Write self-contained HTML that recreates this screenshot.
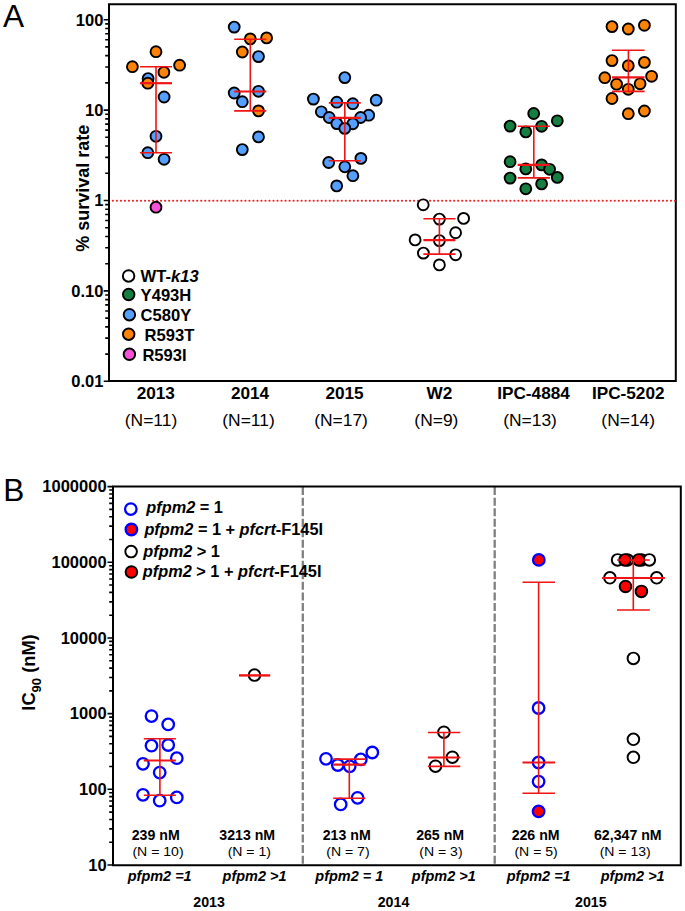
<!DOCTYPE html>
<html><head><meta charset="utf-8"><style>
html,body{margin:0;padding:0;background:#fff;}
svg{display:block;}
text{font-family:"Liberation Sans",sans-serif;fill:#000;}
.b{font-weight:bold;}
.bi{font-weight:bold;font-style:italic;}
.r{font-weight:normal;}
</style></head><body>
<svg width="685" height="911" viewBox="0 0 685 911">
<rect width="685" height="911" fill="#fff"/>
<path d="M109.0,4.2 H675.8 V381.0 H109.0 Z" fill="none" stroke="#000" stroke-width="2"/>
<path d="M103.7,381.30H109.0M105.2,354.09H109.0M105.2,338.17H109.0M105.2,326.87H109.0M105.2,318.11H109.0M105.2,310.96H109.0M105.2,304.90H109.0M105.2,299.66H109.0M105.2,295.04H109.0M103.7,290.90H109.0M105.2,263.69H109.0M105.2,247.77H109.0M105.2,236.47H109.0M105.2,227.71H109.0M105.2,220.56H109.0M105.2,214.50H109.0M105.2,209.26H109.0M105.2,204.64H109.0M103.7,200.50H109.0M105.2,173.29H109.0M105.2,157.37H109.0M105.2,146.07H109.0M105.2,137.31H109.0M105.2,130.16H109.0M105.2,124.10H109.0M105.2,118.86H109.0M105.2,114.24H109.0M103.7,110.10H109.0M105.2,82.89H109.0M105.2,66.97H109.0M105.2,55.67H109.0M105.2,46.91H109.0M105.2,39.76H109.0M105.2,33.70H109.0M105.2,28.46H109.0M105.2,23.84H109.0M103.7,19.70H109.0" stroke="#000" stroke-width="1.6" fill="none"/>
<text transform="translate(103.4,25.5) scale(1.02,1)" x="0" y="0" class="b" font-size="16.2" text-anchor="end">100</text>
<text transform="translate(103.4,115.9) scale(1.02,1)" x="0" y="0" class="b" font-size="16.2" text-anchor="end">10</text>
<text transform="translate(103.4,206.3) scale(1.02,1)" x="0" y="0" class="b" font-size="16.2" text-anchor="end">1</text>
<text transform="translate(103.4,296.7) scale(1.02,1)" x="0" y="0" class="b" font-size="16.2" text-anchor="end">0.10</text>
<text transform="translate(103.4,387.1) scale(1.02,1)" x="0" y="0" class="b" font-size="16.2" text-anchor="end">0.01</text>
<path d="M112.8,200.7H676" stroke="#f01414" stroke-width="2" stroke-linecap="round" stroke-dasharray="0.2 3.815" fill="none" opacity="0.92"/>
<circle cx="156.0" cy="51.7" r="5.45" fill="#fd8208" stroke="#000" stroke-width="1.9"/>
<circle cx="132.4" cy="66.7" r="5.45" fill="#fd8208" stroke="#000" stroke-width="1.9"/>
<circle cx="179.6" cy="65.2" r="5.45" fill="#fd8208" stroke="#000" stroke-width="1.9"/>
<circle cx="163.9" cy="72.3" r="5.45" fill="#fd8208" stroke="#000" stroke-width="1.9"/>
<circle cx="148.1" cy="78.6" r="5.45" fill="#55a0ff" stroke="#000" stroke-width="1.9"/>
<circle cx="147.8" cy="83.2" r="5.45" fill="#fd8208" stroke="#000" stroke-width="1.9"/>
<circle cx="164.1" cy="97.0" r="5.45" fill="#55a0ff" stroke="#000" stroke-width="1.9"/>
<circle cx="156.0" cy="136.3" r="5.45" fill="#55a0ff" stroke="#000" stroke-width="1.9"/>
<circle cx="147.8" cy="152.7" r="5.45" fill="#55a0ff" stroke="#000" stroke-width="1.9"/>
<circle cx="164.1" cy="159.3" r="5.45" fill="#55a0ff" stroke="#000" stroke-width="1.9"/>
<circle cx="156.0" cy="207.2" r="5.45" fill="#f850d8" stroke="#000" stroke-width="1.9"/>
<path d="M156.0,66.8V152.7M140.0,66.8H172.0M140.0,152.7H172.0" stroke="#f01414" stroke-width="1.6" fill="none"/>
<path d="M140.0,83.2H172.0" stroke="#f01414" stroke-width="2.2" fill="none"/>
<circle cx="234.2" cy="27.1" r="5.45" fill="#55a0ff" stroke="#000" stroke-width="1.9"/>
<circle cx="250.3" cy="38.9" r="5.45" fill="#fd8208" stroke="#000" stroke-width="1.9"/>
<circle cx="266.6" cy="37.9" r="5.45" fill="#fd8208" stroke="#000" stroke-width="1.9"/>
<circle cx="242.3" cy="52.0" r="5.45" fill="#fd8208" stroke="#000" stroke-width="1.9"/>
<circle cx="258.5" cy="56.6" r="5.45" fill="#55a0ff" stroke="#000" stroke-width="1.9"/>
<circle cx="234.2" cy="93.0" r="5.45" fill="#55a0ff" stroke="#000" stroke-width="1.9"/>
<circle cx="258.5" cy="91.3" r="5.45" fill="#55a0ff" stroke="#000" stroke-width="1.9"/>
<circle cx="242.3" cy="101.7" r="5.45" fill="#55a0ff" stroke="#000" stroke-width="1.9"/>
<circle cx="258.5" cy="110.9" r="5.45" fill="#fd8208" stroke="#000" stroke-width="1.9"/>
<circle cx="258.5" cy="136.9" r="5.45" fill="#55a0ff" stroke="#000" stroke-width="1.9"/>
<circle cx="242.3" cy="149.6" r="5.45" fill="#55a0ff" stroke="#000" stroke-width="1.9"/>
<path d="M250.3,39.2V110.9M234.2,39.2H266.3M234.2,110.9H266.3" stroke="#f01414" stroke-width="1.6" fill="none"/>
<path d="M234.2,91.5H266.3" stroke="#f01414" stroke-width="2.2" fill="none"/>
<circle cx="344.8" cy="77.6" r="5.45" fill="#55a0ff" stroke="#000" stroke-width="1.9"/>
<circle cx="313.4" cy="99.1" r="5.45" fill="#55a0ff" stroke="#000" stroke-width="1.9"/>
<circle cx="376.2" cy="100.2" r="5.45" fill="#55a0ff" stroke="#000" stroke-width="1.9"/>
<circle cx="336.8" cy="102.2" r="5.45" fill="#55a0ff" stroke="#000" stroke-width="1.9"/>
<circle cx="352.8" cy="103.7" r="5.45" fill="#55a0ff" stroke="#000" stroke-width="1.9"/>
<circle cx="321.3" cy="111.8" r="5.45" fill="#55a0ff" stroke="#000" stroke-width="1.9"/>
<circle cx="368.7" cy="115.2" r="5.45" fill="#55a0ff" stroke="#000" stroke-width="1.9"/>
<circle cx="329.2" cy="117.5" r="5.45" fill="#55a0ff" stroke="#000" stroke-width="1.9"/>
<circle cx="360.6" cy="117.5" r="5.45" fill="#55a0ff" stroke="#000" stroke-width="1.9"/>
<circle cx="336.8" cy="123.6" r="5.45" fill="#55a0ff" stroke="#000" stroke-width="1.9"/>
<circle cx="352.8" cy="123.8" r="5.45" fill="#55a0ff" stroke="#000" stroke-width="1.9"/>
<circle cx="344.8" cy="128.4" r="5.45" fill="#55a0ff" stroke="#000" stroke-width="1.9"/>
<circle cx="360.9" cy="158.4" r="5.45" fill="#55a0ff" stroke="#000" stroke-width="1.9"/>
<circle cx="328.7" cy="162.5" r="5.45" fill="#55a0ff" stroke="#000" stroke-width="1.9"/>
<circle cx="344.8" cy="166.8" r="5.45" fill="#55a0ff" stroke="#000" stroke-width="1.9"/>
<circle cx="352.9" cy="175.7" r="5.45" fill="#55a0ff" stroke="#000" stroke-width="1.9"/>
<circle cx="336.7" cy="185.9" r="5.45" fill="#55a0ff" stroke="#000" stroke-width="1.9"/>
<path d="M344.8,102.9V160.7M328.8,102.9H360.8M328.8,160.7H360.8" stroke="#f01414" stroke-width="1.6" fill="none"/>
<path d="M328.8,117.8H360.8" stroke="#f01414" stroke-width="2.2" fill="none"/>
<circle cx="423.2" cy="204.8" r="5.45" fill="#ffffff" stroke="#000" stroke-width="1.9"/>
<circle cx="439.4" cy="219.1" r="5.45" fill="#ffffff" stroke="#000" stroke-width="1.9"/>
<circle cx="463.6" cy="218.4" r="5.45" fill="#ffffff" stroke="#000" stroke-width="1.9"/>
<circle cx="455.6" cy="232.7" r="5.45" fill="#ffffff" stroke="#000" stroke-width="1.9"/>
<circle cx="415.1" cy="239.9" r="5.45" fill="#ffffff" stroke="#000" stroke-width="1.9"/>
<circle cx="439.4" cy="240.6" r="5.45" fill="#ffffff" stroke="#000" stroke-width="1.9"/>
<circle cx="423.4" cy="253.1" r="5.45" fill="#ffffff" stroke="#000" stroke-width="1.9"/>
<circle cx="455.6" cy="254.8" r="5.45" fill="#ffffff" stroke="#000" stroke-width="1.9"/>
<circle cx="439.4" cy="264.9" r="5.45" fill="#ffffff" stroke="#000" stroke-width="1.9"/>
<path d="M439.4,218.7V254.1M423.4,218.7H455.5M423.4,254.1H455.5" stroke="#f01414" stroke-width="1.6" fill="none"/>
<path d="M423.4,240.2H455.5" stroke="#f01414" stroke-width="2.2" fill="none"/>
<circle cx="533.7" cy="113.5" r="5.45" fill="#147f40" stroke="#000" stroke-width="1.9"/>
<circle cx="557.3" cy="120.8" r="5.45" fill="#147f40" stroke="#000" stroke-width="1.9"/>
<circle cx="510.1" cy="126.1" r="5.45" fill="#147f40" stroke="#000" stroke-width="1.9"/>
<circle cx="541.6" cy="126.3" r="5.45" fill="#147f40" stroke="#000" stroke-width="1.9"/>
<circle cx="525.8" cy="131.9" r="5.45" fill="#147f40" stroke="#000" stroke-width="1.9"/>
<circle cx="510.1" cy="161.7" r="5.45" fill="#147f40" stroke="#000" stroke-width="1.9"/>
<circle cx="541.6" cy="164.9" r="5.45" fill="#147f40" stroke="#000" stroke-width="1.9"/>
<circle cx="525.8" cy="168.9" r="5.45" fill="#147f40" stroke="#000" stroke-width="1.9"/>
<circle cx="549.6" cy="169.3" r="5.45" fill="#147f40" stroke="#000" stroke-width="1.9"/>
<circle cx="510.1" cy="178.1" r="5.45" fill="#147f40" stroke="#000" stroke-width="1.9"/>
<circle cx="557.3" cy="177.4" r="5.45" fill="#147f40" stroke="#000" stroke-width="1.9"/>
<circle cx="541.6" cy="183.9" r="5.45" fill="#147f40" stroke="#000" stroke-width="1.9"/>
<circle cx="525.8" cy="188.8" r="5.45" fill="#147f40" stroke="#000" stroke-width="1.9"/>
<path d="M533.8,126.3V177.9M517.7,126.3H549.9M517.7,177.9H549.9" stroke="#f01414" stroke-width="1.6" fill="none"/>
<path d="M517.7,164.9H549.9" stroke="#f01414" stroke-width="2.2" fill="none"/>
<circle cx="612.0" cy="26.6" r="5.45" fill="#fd8208" stroke="#000" stroke-width="1.9"/>
<circle cx="628.3" cy="29.0" r="5.45" fill="#fd8208" stroke="#000" stroke-width="1.9"/>
<circle cx="644.4" cy="25.3" r="5.45" fill="#fd8208" stroke="#000" stroke-width="1.9"/>
<circle cx="612.0" cy="60.6" r="5.45" fill="#fd8208" stroke="#000" stroke-width="1.9"/>
<circle cx="628.3" cy="65.7" r="5.45" fill="#fd8208" stroke="#000" stroke-width="1.9"/>
<circle cx="644.4" cy="62.4" r="5.45" fill="#fd8208" stroke="#000" stroke-width="1.9"/>
<circle cx="604.8" cy="77.7" r="5.45" fill="#fd8208" stroke="#000" stroke-width="1.9"/>
<circle cx="651.6" cy="76.3" r="5.45" fill="#fd8208" stroke="#000" stroke-width="1.9"/>
<circle cx="616.6" cy="84.2" r="5.45" fill="#fd8208" stroke="#000" stroke-width="1.9"/>
<circle cx="640.1" cy="83.8" r="5.45" fill="#fd8208" stroke="#000" stroke-width="1.9"/>
<circle cx="628.3" cy="89.3" r="5.45" fill="#fd8208" stroke="#000" stroke-width="1.9"/>
<circle cx="612.0" cy="98.5" r="5.45" fill="#fd8208" stroke="#000" stroke-width="1.9"/>
<circle cx="628.3" cy="113.7" r="5.45" fill="#fd8208" stroke="#000" stroke-width="1.9"/>
<circle cx="644.4" cy="111.0" r="5.45" fill="#fd8208" stroke="#000" stroke-width="1.9"/>
<path d="M628.4,50.2V91.4M612.0,50.2H644.6M612.0,91.4H644.6" stroke="#f01414" stroke-width="1.6" fill="none"/>
<path d="M612.0,77.3H644.6" stroke="#f01414" stroke-width="2.2" fill="none"/>
<circle cx="128.6" cy="275.9" r="5.75" fill="#ffffff" stroke="#000" stroke-width="1.95"/>
<circle cx="128.7" cy="294.5" r="5.75" fill="#147f40" stroke="#000" stroke-width="1.95"/>
<circle cx="129.4" cy="314.7" r="5.75" fill="#55a0ff" stroke="#000" stroke-width="1.95"/>
<circle cx="128.7" cy="334.2" r="5.75" fill="#fd8208" stroke="#000" stroke-width="1.95"/>
<circle cx="129.4" cy="354.3" r="5.75" fill="#f850d8" stroke="#000" stroke-width="1.95"/>
<text transform="translate(140.6,282.2) scale(1.05,1)" x="0" y="0" class="b" font-size="15.8">WT-<tspan class="bi">k13</tspan></text>
<text transform="translate(140.6,300.8) scale(1.05,1)" x="0" y="0" class="b" font-size="15.8">Y493H</text>
<text transform="translate(140.6,321.2) scale(1.05,1)" x="0" y="0" class="b" font-size="15.8">C580Y</text>
<text transform="translate(144.6,340.9) scale(1.05,1)" x="0" y="0" class="b" font-size="15.8">R593T</text>
<text transform="translate(142.4,361.4) scale(1.05,1)" x="0" y="0" class="b" font-size="15.8">R593I</text>
<text transform="translate(155.8,398.8) scale(1.075,1)" x="0" y="0" class="b" font-size="16" text-anchor="middle">2013</text>
<text transform="translate(151.0,425.8) scale(1.05,1)" x="0" y="0" class="r" font-size="16.6" text-anchor="middle">(N=11)</text>
<text transform="translate(250.0,398.8) scale(1.075,1)" x="0" y="0" class="b" font-size="16" text-anchor="middle">2014</text>
<text transform="translate(248.5,425.8) scale(1.05,1)" x="0" y="0" class="r" font-size="16.6" text-anchor="middle">(N=11)</text>
<text transform="translate(344.5,398.8) scale(1.075,1)" x="0" y="0" class="b" font-size="16" text-anchor="middle">2015</text>
<text transform="translate(341.0,425.8) scale(1.05,1)" x="0" y="0" class="r" font-size="16.6" text-anchor="middle">(N=17)</text>
<text transform="translate(439.5,398.8) scale(1.075,1)" x="0" y="0" class="b" font-size="16" text-anchor="middle">W2</text>
<text transform="translate(436.4,425.8) scale(1.05,1)" x="0" y="0" class="r" font-size="16.6" text-anchor="middle">(N=9)</text>
<text transform="translate(533.5,398.8) scale(1.075,1)" x="0" y="0" class="b" font-size="16" text-anchor="middle">IPC-4884</text>
<text transform="translate(530.0,425.8) scale(1.05,1)" x="0" y="0" class="r" font-size="16.6" text-anchor="middle">(N=13)</text>
<text transform="translate(628.2,398.8) scale(1.075,1)" x="0" y="0" class="b" font-size="16" text-anchor="middle">IPC-5202</text>
<text transform="translate(628.2,425.8) scale(1.05,1)" x="0" y="0" class="r" font-size="16.6" text-anchor="middle">(N=14)</text>
<text transform="translate(89.2,188.2) rotate(-90)" class="b" font-size="18" text-anchor="middle">% survival rate</text>
<text x="3.0" y="27" class="r" font-size="31.6">A</text>
<path d="M302.8,487.1V864" stroke="#7f7f7f" stroke-width="2.3" stroke-dasharray="8 2.53" fill="none"/>
<path d="M494.7,487.1V864" stroke="#7f7f7f" stroke-width="2.3" stroke-dasharray="8 2.53" fill="none"/>
<path d="M113.0,486.6 H680.8 V865.3 H113.0 Z" fill="none" stroke="#000" stroke-width="2"/>
<path d="M107.5,865.00H113.0M109.2,842.22H113.0M109.2,828.89H113.0M109.2,819.44H113.0M109.2,812.10H113.0M109.2,806.11H113.0M109.2,801.04H113.0M109.2,796.65H113.0M109.2,792.78H113.0M107.5,789.32H113.0M109.2,766.54H113.0M109.2,753.21H113.0M109.2,743.76H113.0M109.2,736.42H113.0M109.2,730.43H113.0M109.2,725.36H113.0M109.2,720.97H113.0M109.2,717.10H113.0M107.5,713.64H113.0M109.2,690.86H113.0M109.2,677.53H113.0M109.2,668.08H113.0M109.2,660.74H113.0M109.2,654.75H113.0M109.2,649.68H113.0M109.2,645.29H113.0M109.2,641.42H113.0M107.5,637.96H113.0M109.2,615.18H113.0M109.2,601.85H113.0M109.2,592.40H113.0M109.2,585.06H113.0M109.2,579.07H113.0M109.2,574.00H113.0M109.2,569.61H113.0M109.2,565.74H113.0M107.5,562.28H113.0M109.2,539.50H113.0M109.2,526.17H113.0M109.2,516.72H113.0M109.2,509.38H113.0M109.2,503.39H113.0M109.2,498.32H113.0M109.2,493.93H113.0M109.2,490.06H113.0M107.5,486.60H113.0" stroke="#000" stroke-width="1.6" fill="none"/>
<text transform="translate(106.6,870.8) scale(1.02,1)" x="0" y="0" class="b" font-size="16.2" text-anchor="end">10</text>
<text transform="translate(106.6,795.12) scale(1.02,1)" x="0" y="0" class="b" font-size="16.2" text-anchor="end">100</text>
<text transform="translate(106.6,719.44) scale(1.02,1)" x="0" y="0" class="b" font-size="16.2" text-anchor="end">1000</text>
<text transform="translate(106.6,643.76) scale(1.02,1)" x="0" y="0" class="b" font-size="16.2" text-anchor="end">10000</text>
<text transform="translate(106.6,568.08) scale(1.02,1)" x="0" y="0" class="b" font-size="16.2" text-anchor="end">100000</text>
<text transform="translate(106.6,492.4) scale(1.02,1)" x="0" y="0" class="b" font-size="16.2" text-anchor="end">1000000</text>
<text x="3.2" y="501.2" class="r" font-size="31.6">B</text>
<text transform="translate(35,672.5) rotate(-90)" class="b" font-size="18.3" text-anchor="middle">IC<tspan font-size="13" dy="5.5">90</tspan><tspan dy="-5.5"> (nM)</tspan></text>
<circle cx="130.8" cy="509.1" r="5.75" fill="#fff" stroke="#0000ff" stroke-width="2.3"/>
<circle cx="131.4" cy="529.5" r="5.75" fill="#ff0000" stroke="#0000ff" stroke-width="2.3"/>
<circle cx="131.1" cy="551.6" r="5.8" fill="#fff" stroke="#000" stroke-width="1.95"/>
<circle cx="131.4" cy="572.0" r="5.8" fill="#ff0000" stroke="#000" stroke-width="1.95"/>
<text transform="translate(146.3,513.4) scale(1.02,1)" x="0" y="0" class="b" font-size="16"><tspan class="bi">pfpm2</tspan> = 1</text>
<text transform="translate(144.4,535.3) scale(1.02,1)" x="0" y="0" class="b" font-size="16"><tspan class="bi">pfpm2</tspan> = 1 + <tspan class="bi">pfcrt</tspan>-F145I</text>
<text transform="translate(143.3,556.8) scale(1.02,1)" x="0" y="0" class="b" font-size="16"><tspan class="bi">pfpm2</tspan> &gt; 1</text>
<text transform="translate(142.8,576.8) scale(1.02,1)" x="0" y="0" class="b" font-size="16"><tspan class="bi">pfpm2</tspan> &gt; 1 + <tspan class="bi">pfcrt</tspan>-F145I</text>
<circle cx="151.5" cy="716.1" r="5.75" fill="#fff" stroke="#0000ff" stroke-width="2.3"/>
<circle cx="168.2" cy="724.4" r="5.75" fill="#fff" stroke="#0000ff" stroke-width="2.3"/>
<circle cx="151.5" cy="745.7" r="5.75" fill="#fff" stroke="#0000ff" stroke-width="2.3"/>
<circle cx="168.2" cy="745.0" r="5.75" fill="#fff" stroke="#0000ff" stroke-width="2.3"/>
<circle cx="176.8" cy="758.2" r="5.75" fill="#fff" stroke="#0000ff" stroke-width="2.3"/>
<circle cx="143.0" cy="763.8" r="5.75" fill="#fff" stroke="#0000ff" stroke-width="2.3"/>
<circle cx="159.7" cy="772.6" r="5.75" fill="#fff" stroke="#0000ff" stroke-width="2.3"/>
<circle cx="143.0" cy="794.8" r="5.75" fill="#fff" stroke="#0000ff" stroke-width="2.3"/>
<circle cx="176.8" cy="797.4" r="5.75" fill="#fff" stroke="#0000ff" stroke-width="2.3"/>
<circle cx="159.7" cy="800.7" r="5.75" fill="#fff" stroke="#0000ff" stroke-width="2.3"/>
<path d="M159.9,738.7V795.2M143.8,738.7H175.9M143.8,795.2H175.9" stroke="#f01414" stroke-width="1.6" fill="none"/>
<path d="M143.8,760.5H175.9" stroke="#f01414" stroke-width="2.2" fill="none"/>
<circle cx="254.5" cy="675.1" r="5.8" fill="#fff" stroke="#000" stroke-width="1.95"/>
<path d="M239,675.4H270.2" stroke="#f01414" stroke-width="2.4" fill="none"/>
<circle cx="372.3" cy="752.5" r="5.75" fill="#fff" stroke="#0000ff" stroke-width="2.3"/>
<circle cx="326.0" cy="758.8" r="5.75" fill="#fff" stroke="#0000ff" stroke-width="2.3"/>
<circle cx="360.8" cy="759.4" r="5.75" fill="#fff" stroke="#0000ff" stroke-width="2.3"/>
<circle cx="337.8" cy="765.0" r="5.75" fill="#fff" stroke="#0000ff" stroke-width="2.3"/>
<circle cx="349.7" cy="766.3" r="5.75" fill="#fff" stroke="#0000ff" stroke-width="2.3"/>
<circle cx="357.6" cy="797.8" r="5.75" fill="#fff" stroke="#0000ff" stroke-width="2.3"/>
<circle cx="340.7" cy="804.4" r="5.75" fill="#fff" stroke="#0000ff" stroke-width="2.3"/>
<path d="M349.3,759.1V798.2M333.2,759.1H365.4M333.2,798.2H365.4" stroke="#f01414" stroke-width="1.6" fill="none"/>
<path d="M333.2,764.6H365.4" stroke="#f01414" stroke-width="2.2" fill="none"/>
<circle cx="443.9" cy="732.2" r="5.8" fill="#fff" stroke="#000" stroke-width="1.95"/>
<circle cx="452.4" cy="757.2" r="5.8" fill="#fff" stroke="#000" stroke-width="1.95"/>
<circle cx="435.5" cy="766.2" r="5.8" fill="#fff" stroke="#000" stroke-width="1.95"/>
<path d="M443.9,732.5V766.4M427.9,732.5H460.3M427.9,766.4H460.3" stroke="#f01414" stroke-width="1.6" fill="none"/>
<path d="M427.9,757.5H460.3" stroke="#f01414" stroke-width="2.2" fill="none"/>
<circle cx="538.8" cy="559.9" r="5.75" fill="#ff0000" stroke="#0000ff" stroke-width="2.3"/>
<circle cx="538.6" cy="708.0" r="5.75" fill="#fff" stroke="#0000ff" stroke-width="2.3"/>
<circle cx="538.6" cy="762.5" r="5.75" fill="#fff" stroke="#0000ff" stroke-width="2.3"/>
<circle cx="538.6" cy="781.6" r="5.75" fill="#fff" stroke="#0000ff" stroke-width="2.3"/>
<circle cx="538.6" cy="811.4" r="5.75" fill="#ff0000" stroke="#0000ff" stroke-width="2.3"/>
<path d="M538.6,582.3V793.3M522.5,582.3H555.0M522.5,793.3H555.0" stroke="#f01414" stroke-width="1.6" fill="none"/>
<path d="M522.5,762.5H555.0" stroke="#f01414" stroke-width="2.2" fill="none"/>
<circle cx="617.6" cy="559.9" r="5.8" fill="#fff" stroke="#000" stroke-width="1.95"/>
<circle cx="627.5" cy="559.9" r="5.8" fill="#fff" stroke="#000" stroke-width="1.95"/>
<circle cx="641.5" cy="559.9" r="5.8" fill="#fff" stroke="#000" stroke-width="1.95"/>
<circle cx="649.3" cy="559.9" r="5.8" fill="#fff" stroke="#000" stroke-width="1.95"/>
<circle cx="625.0" cy="559.9" r="5.8" fill="#ff0000" stroke="#000" stroke-width="1.95"/>
<circle cx="638.7" cy="559.9" r="5.8" fill="#ff0000" stroke="#000" stroke-width="1.95"/>
<circle cx="609.9" cy="577.8" r="5.8" fill="#fff" stroke="#000" stroke-width="1.95"/>
<circle cx="656.7" cy="577.8" r="5.8" fill="#fff" stroke="#000" stroke-width="1.95"/>
<circle cx="625.5" cy="586.5" r="5.8" fill="#ff0000" stroke="#000" stroke-width="1.95"/>
<circle cx="641.4" cy="591.4" r="5.8" fill="#ff0000" stroke="#000" stroke-width="1.95"/>
<circle cx="633.4" cy="658.4" r="5.8" fill="#fff" stroke="#000" stroke-width="1.95"/>
<circle cx="633.4" cy="739.3" r="5.8" fill="#fff" stroke="#000" stroke-width="1.95"/>
<circle cx="633.4" cy="757.3" r="5.8" fill="#fff" stroke="#000" stroke-width="1.95"/>
<path d="M633.3,560.0V610.0M617.0,560.0H649.8M617.0,610.0H649.8" stroke="#f01414" stroke-width="1.6" fill="none"/>
<path d="M602.0,578.0H664.9" stroke="#f01414" stroke-width="2.2" fill="none"/>
<text transform="translate(155.7,839.6) scale(1.025,1)" x="0" y="0" class="b" font-size="13.8" text-anchor="middle">239 nM</text>
<text transform="translate(158.0,855.9) scale(1.05,1)" x="0" y="0" class="r" font-size="13.4" text-anchor="middle">(N = 10)</text>
<text transform="translate(247.2,839.6) scale(1.025,1)" x="0" y="0" class="b" font-size="13.8" text-anchor="middle">3213 nM</text>
<text transform="translate(249.3,855.9) scale(1.05,1)" x="0" y="0" class="r" font-size="13.4" text-anchor="middle">(N = 1)</text>
<text transform="translate(346.7,839.6) scale(1.025,1)" x="0" y="0" class="b" font-size="13.8" text-anchor="middle">213 nM</text>
<text transform="translate(347.9,855.9) scale(1.05,1)" x="0" y="0" class="r" font-size="13.4" text-anchor="middle">(N = 7)</text>
<text transform="translate(440.1,839.6) scale(1.025,1)" x="0" y="0" class="b" font-size="13.8" text-anchor="middle">265 nM</text>
<text transform="translate(440.9,855.9) scale(1.05,1)" x="0" y="0" class="r" font-size="13.4" text-anchor="middle">(N = 3)</text>
<text transform="translate(535.6,839.6) scale(1.025,1)" x="0" y="0" class="b" font-size="13.8" text-anchor="middle">226 nM</text>
<text transform="translate(536.1,855.9) scale(1.05,1)" x="0" y="0" class="r" font-size="13.4" text-anchor="middle">(N = 5)</text>
<text transform="translate(627.8,839.6) scale(1.025,1)" x="0" y="0" class="b" font-size="13.8" text-anchor="middle">62,347 nM</text>
<text transform="translate(625.2,855.9) scale(1.05,1)" x="0" y="0" class="r" font-size="13.4" text-anchor="middle">(N = 13)</text>
<text transform="translate(159.7,880.8) scale(1.05,1)" x="0" y="0" class="bi" font-size="13.8" text-anchor="middle">pfpm2 =1</text>
<text transform="translate(254.5,880.8) scale(1.05,1)" x="0" y="0" class="bi" font-size="13.8" text-anchor="middle">pfpm2 &gt;1</text>
<text transform="translate(349.3,880.8) scale(1.05,1)" x="0" y="0" class="bi" font-size="13.8" text-anchor="middle">pfpm2 = 1</text>
<text transform="translate(443.8,880.8) scale(1.05,1)" x="0" y="0" class="bi" font-size="13.8" text-anchor="middle">pfpm2 &gt;1</text>
<text transform="translate(538.7,880.8) scale(1.05,1)" x="0" y="0" class="bi" font-size="13.8" text-anchor="middle">pfpm2 =1</text>
<text transform="translate(632.7,880.8) scale(1.05,1)" x="0" y="0" class="bi" font-size="13.8" text-anchor="middle">pfpm2 &gt;1</text>
<text x="209.1" y="906.9" class="b" font-size="14.2" text-anchor="middle">2013</text>
<text x="393.5" y="906.9" class="b" font-size="14.2" text-anchor="middle">2014</text>
<text x="590.8" y="906.9" class="b" font-size="14.2" text-anchor="middle">2015</text>
</svg>
</body></html>
